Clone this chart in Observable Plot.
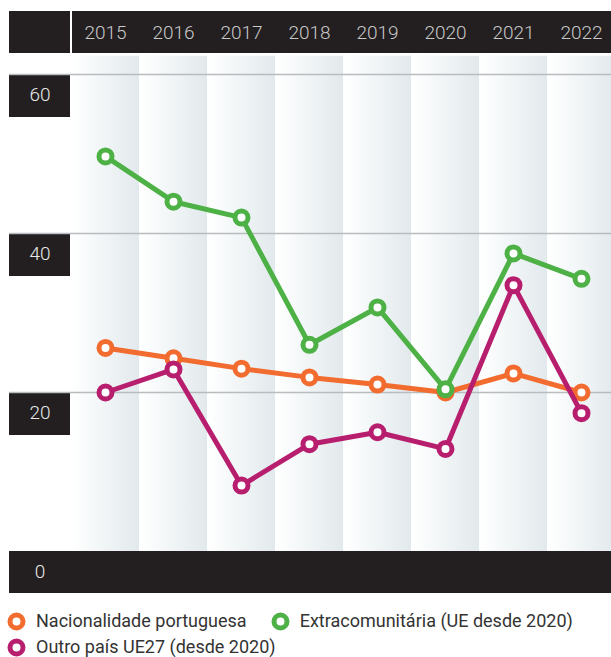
<!DOCTYPE html>
<html>
<head>
<meta charset="utf-8">
<script src="https://cdn.jsdelivr.net/npm/d3@7"></script>
<script src="https://cdn.jsdelivr.net/npm/@observablehq/plot@0.6"></script>
<style>
  body { margin: 0; background: #fff; font-family: Roboto, "Noto Sans", sans-serif; }
  #chart svg { display: block; }
  #legend { padding: 8px 0 0 7px; display: flex; flex-wrap: wrap; width: 604px; line-height: 26px; font-size: 18px; color: #333; }
  .item { display: inline-flex; align-items: center; margin-right: 24px; height: 26px; }
  .item svg { margin-right: 10px; }
</style>
</head>
<body>
<div id="chart"></div>
<div id="legend"></div>
<script>
const years = ["2015", "2016", "2017", "2018", "2019", "2020", "2021", "2022"];
const seriesNames = ["Nacionalidade portuguesa", "Extracomunitária (UE desde 2020)", "Outro país UE27 (desde 2020)"];
const portuguesa = [25.6, 24.3, 23.0, 21.9, 21.0, 20.0, 22.4, 20.0];
const extracomunitaria = [49.7, 44.0, 42.0, 26.0, 30.7, 20.4, 37.5, 34.3];
const outroUE = [20.0, 22.9, 8.3, 13.5, 15.0, 12.9, 33.5, 17.4];
const yTicks = [0, 20, 40, 60];
const colors = ["#f26b2f", "#4db146", "#b81e6e"];

const seriesValues = [portuguesa, extracomunitaria, outroUE];
const data = seriesValues.map((vals, s) => years.map((year, i) => ({ year, value: vals[i], series: seriesNames[s] })));
const drawOrder = [0, 2, 1];

const stripeTop = 62.3;

function defsMark() {
  const g = d3.create("svg:g");
  const lg = g.append("defs").append("linearGradient")
    .attr("id", "stripeGrad").attr("x1", "0").attr("x2", "1").attr("y1", "0").attr("y2", "0");
  lg.append("stop").attr("offset", "0").attr("stop-color", "#ffffff");
  lg.append("stop").attr("offset", "0.35").attr("stop-color", "#f5f8f9");
  lg.append("stop").attr("offset", "1").attr("stop-color", "#e2e9ec");
  return g.node();
}

function boxesMark(index, scales, values, dim) {
  const y = scales.y;
  const L = dim.marginLeft, R = dim.width - dim.marginRight;
  const g = d3.create("svg:g").attr("fill", "#231f20");
  g.append("rect").attr("x", L).attr("y", 11).attr("width", 61).attr("height", 42);
  g.append("rect").attr("x", 72).attr("y", 11).attr("width", R - 72).attr("height", 42);
  for (const t of yTicks) {
    const yy = y(t);
    if (t === 0) g.append("rect").attr("x", L).attr("y", yy).attr("width", R - L).attr("height", 42);
    else g.append("rect").attr("x", L).attr("y", yy + 1).attr("width", 61).attr("height", 42);
  }
  return g.node();
}

const marks = [
  defsMark,
  Plot.barY(years, { x: d => d, y1: 0, y2: stripeTop, fill: "url(#stripeGrad)", inset: 0 }),
  boxesMark,
  Plot.ruleY(yTicks.filter(t => t > 0), { stroke: "#b9bcbe", strokeWidth: 1.5 }),
  Plot.text(years, { x: d => d, text: d => d, frameAnchor: "top", lineAnchor: "middle", dy: -42, fill: "#c8c8c8", fontSize: 19, fontWeight: 300 }),
  Plot.text(yTicks, { y: d => d, text: d => String(d), frameAnchor: "left", lineAnchor: "middle", dx: 30.5, dy: 20, textAnchor: "middle", fill: "#e8e8e8", fontSize: 19, fontWeight: 300 })
];
for (const s of drawOrder) {
  marks.push(Plot.line(data[s], { x: "year", y: "value", stroke: colors[s], strokeWidth: 5 }));
  marks.push(Plot.dot(data[s], { x: "year", y: "value", r: 6.5, fill: "white", stroke: colors[s], strokeWidth: 5 }));
}

const chart = Plot.plot({
  width: 611,
  height: 600,
  marginLeft: 9,
  marginRight: 0,
  marginTop: 74,
  marginBottom: 49,
  x: { type: "band", domain: years, range: [71, 615], padding: 0, axis: null },
  y: { domain: [0, 60], axis: null },
  style: { fontFamily: "Roboto, 'Noto Sans', sans-serif", background: "white", overflow: "hidden" },
  marks
});
document.getElementById("chart").append(chart);

const legend = document.getElementById("legend");
seriesNames.forEach((name, i) => {
  const item = document.createElement("span");
  item.className = "item";
  item.innerHTML = `<svg width="19" height="19"><circle cx="9.5" cy="9.5" r="6.5" fill="white" stroke="${colors[i]}" stroke-width="5"/></svg><span>${name}</span>`;
  legend.append(item);
});
</script>
</body>
</html>
